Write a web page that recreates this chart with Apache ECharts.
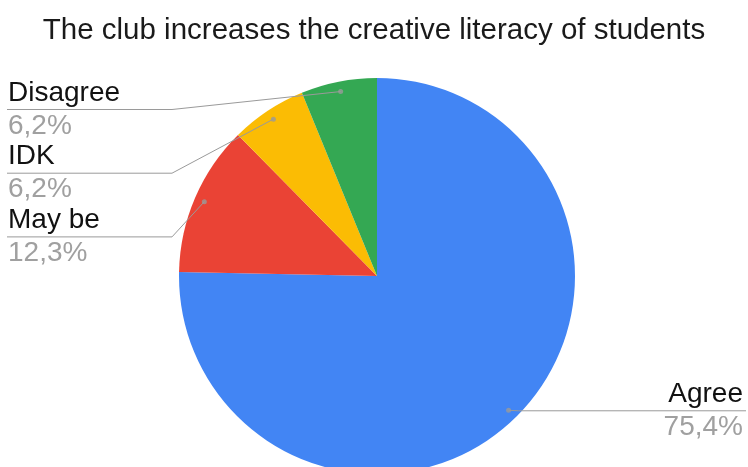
<!DOCTYPE html>
<html><head><meta charset="utf-8">
<script src="https://cdn.jsdelivr.net/npm/echarts@6/dist/echarts.min.js"></script>
<style>html,body{margin:0;padding:0;background:#fff}#c{width:748px;height:467px}</style>
</head><body><div id="c"></div>
<script>
const title = 'The club increases the creative literacy of students';
const categories = ['Agree', 'May be', 'IDK', 'Disagree'];
const values = [75.4, 12.3, 6.2, 6.2];
const colors = ['#4285f4', '#ea4335', '#fbbc04', '#34a853'];

const total = values.reduce((a, b) => a + b, 0);
const mids = [];
let acc = 0;
values.forEach(v => { mids.push(acc + v / 2); acc += v; });
const leftIdx = values.map((v, i) => i).filter(i => mids[i] > total / 2).sort((a, b) => mids[b] - mids[a]);
const leftRank = {};
leftIdx.forEach((i, r) => { leftRank[i] = r; });

const CX = 377, CY = 276, R = 198, RD = 188;
const FONT = '"Liberation Sans", Arial, sans-serif';
const LEFT_EDGE = 8, RIGHT_EDGE = 743, RIGHT_LINE_END = 746, ELBOW_X = 172, LEFT_TOP = 109.5, STEP = 63.7;
const FS = 28, LH = 33;

const chart = echarts.init(document.getElementById('c'), null, { renderer: 'canvas' });
const pieData = categories.map((c, i) => ({ name: c, value: values[i], itemStyle: { color: colors[i] } }));

function fmt(p) {
  return '{n|' + p.name + '}\n{v|' + p.value.toFixed(1).replace('.', ',') + '%}';
}

chart.setOption({
  backgroundColor: '#fff',
  animation: false,
  title: {
    text: title, left: 'center', top: 11,
    textStyle: { fontFamily: FONT, fontSize: 29.5, fontWeight: 'normal', color: '#1a1a1a' }
  },
  polar: { center: [CX, CY], radius: R },
  angleAxis: { type: 'value', min: 0, max: total, startAngle: 90, clockwise: true, show: false },
  radiusAxis: { type: 'value', min: 0, max: R, show: false },
  series: [
    {
      type: 'pie', center: [CX, CY], radius: R, startAngle: 90, clockwise: true,
      label: { show: false }, labelLine: { show: false }, silent: true,
      data: pieData, z: 1
    },
    {
      type: 'pie', center: [CX, CY], radius: RD, startAngle: 90, clockwise: true,
      silent: true, z: 3, avoidLabelOverlap: false,
      itemStyle: { color: 'rgba(0,0,0,0)' },
      data: categories.map((c, i) => ({ name: c, value: values[i], itemStyle: { color: 'rgba(0,0,0,0)' } })),
      label: {
        show: true, position: 'outside', formatter: fmt,
        rich: {
          n: { fontFamily: FONT, fontSize: FS, lineHeight: LH, color: '#111' },
          v: { fontFamily: FONT, fontSize: FS, lineHeight: LH, color: '#a0a0a0' }
        }
      },
      labelLine: { show: true, length: 10, length2: 10, lineStyle: { color: '#9a9a9a', width: 1 } },
      labelLayout: function (p) {
        const i = p.dataIndex;
        let p0 = p.labelLinePoints && p.labelLinePoints[0];
        if (!p0) {
          const a = mids[i] / total * Math.PI * 2;
          p0 = [CX + RD * Math.sin(a), CY - RD * Math.cos(a)];
        }
        p0 = [p0[0], p0[1]];
        if (mids[i] > total / 2) {
          const y = LEFT_TOP + leftRank[i] * STEP;
          return { x: LEFT_EDGE, y: y, align: 'left', verticalAlign: 'middle',
                   labelLinePoints: [p0, [ELBOW_X, y], [LEFT_EDGE - 1, y]] };
        } else {
          const y = p0[1] + 0.5;
          return { x: RIGHT_EDGE, y: y, align: 'right', verticalAlign: 'middle',
                   labelLinePoints: [p0, [p0[0] + 10, y], [RIGHT_LINE_END, y]] };
        }
      }
    },
    {
      type: 'scatter', coordinateSystem: 'polar', silent: true, z: 4,
      symbolSize: 5, itemStyle: { color: '#9a9a9a' },
      data: mids.map(m => [RD, m])
    }
  ]
});
</script></body></html>
